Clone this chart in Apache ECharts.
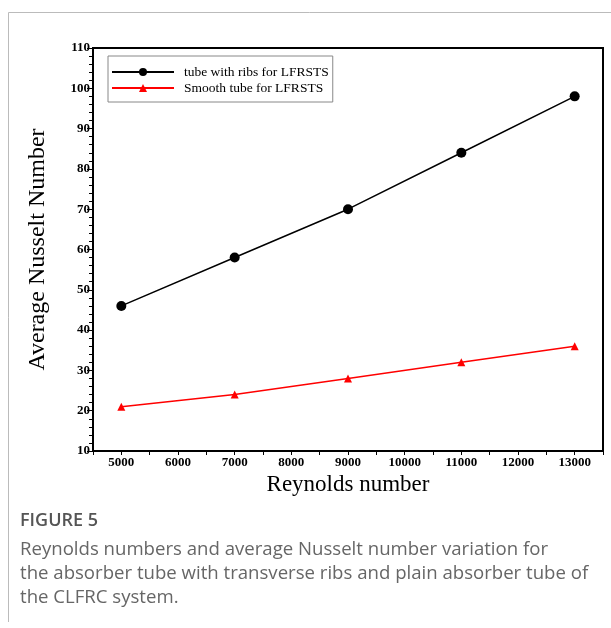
<!DOCTYPE html>
<html><head><meta charset="utf-8">
<script src="https://cdn.jsdelivr.net/npm/echarts@6/dist/echarts.min.js"></script>
<style>html,body{margin:0;padding:0;background:#fff;}#c{width:611px;height:628px;}</style>
</head><body><div id="c"></div>
<script>
var reynolds = [5000, 7000, 9000, 11000, 13000];
var ribsNu = [46, 58, 70, 84, 98];
var smoothNu = [21, 24, 28, 32, 36];
var seriesNames = ['tube with ribs for LFRSTS', 'Smooth tube for LFRSTS'];
var xTickLabels = ['5000','6000','7000','8000','9000','10000','11000','12000','13000'];
var yTickLabels = ['10','20','30','40','50','60','70','80','90','100','110'];

function pairs(xs, ys){ return xs.map(function(x,i){ return [x, ys[i]]; }); }

var chart = echarts.init(document.getElementById('c'), null, {renderer:'canvas'});
var serif = 'Liberation Serif, Times New Roman, serif';
chart.setOption({
  animation:false,
  backgroundColor:'#fff',
  grid:{left:93, right:8, top:48, bottom:177, show:true, borderColor:'#000', borderWidth:2},
  legend:{
    left:108, top:56, orient:'vertical', itemGap:2, itemWidth:62, itemHeight:10,
    padding:[9,4,7,3], borderColor:'#888', borderWidth:1,
    textStyle:{fontFamily:serif, fontSize:13.5, color:'#000', padding:[0,0,0,5]},
    data:[seriesNames[0], seriesNames[1]]
  },
  xAxis:{
    type:'value', min:4500, max:13500, interval:500,
    name:'Reynolds number', nameLocation:'middle', nameGap:15,
    nameTextStyle:{fontFamily:serif, fontSize:23, color:'#000'},
    axisLine:{lineStyle:{color:'#000', width:2}},
    axisTick:{inside:false, length:4, lineStyle:{color:'#000', width:1}},
    axisLabel:{margin:5, fontFamily:serif, fontWeight:'bold', fontSize:13, color:'#000',
      formatter:function(v){ var s=String(v); return xTickLabels.indexOf(s)>=0 ? s : ''; }},
    splitLine:{show:false}
  },
  yAxis:{
    type:'value', min:10, max:110, interval:10,
    name:'Average Nusselt Number', nameLocation:'middle', nameGap:43, nameRotate:90,
    nameTextStyle:{fontFamily:serif, fontSize:24, color:'#000'},
    axisLine:{lineStyle:{color:'#000', width:2}},
    axisTick:{inside:false, length:6, lineStyle:{color:'#000', width:1}},
    minorTick:{show:true, splitNumber:5, length:4, lineStyle:{color:'#000', width:1}},
    axisLabel:{margin:3, fontFamily:serif, fontWeight:'bold', fontSize:13, color:'#000',
      formatter:function(v){ var s=String(v); return yTickLabels.indexOf(s)>=0 ? s : ''; }},
    splitLine:{show:false}
  },
  series:[
    {name:seriesNames[0], type:'line', data:pairs(reynolds, ribsNu),
     symbol:'circle', symbolSize:10, lineStyle:{color:'#000', width:1.5},
     itemStyle:{color:'#000'}},
    {name:seriesNames[1], type:'line', data:pairs(reynolds, smoothNu),
     symbol:'triangle', symbolSize:8, lineStyle:{color:'#f00', width:1.5},
     itemStyle:{color:'#f00'}}
  ],
  graphic:[
    {type:'line', shape:{x1:8.5,y1:12.5,x2:611,y2:12.5}, style:{stroke:'#bbb', lineWidth:1}},
    {type:'line', shape:{x1:8.5,y1:12.5,x2:8.5,y2:622}, style:{stroke:'#bbb', lineWidth:1}},
    {type:'text', left:20, top:512, style:{text:'FIGURE 5', font:'600 18px "Open Sans", sans-serif', fill:'#555'}},
    {type:'text', left:20, top:538, style:{text:'Reynolds numbers and average Nusselt number variation for\nthe absorber tube with transverse ribs and plain absorber tube of\nthe CLFRC system.', font:'18.6px "Open Sans", sans-serif', fill:'#666', lineHeight:24}}
  ]
});
</script></body></html>
